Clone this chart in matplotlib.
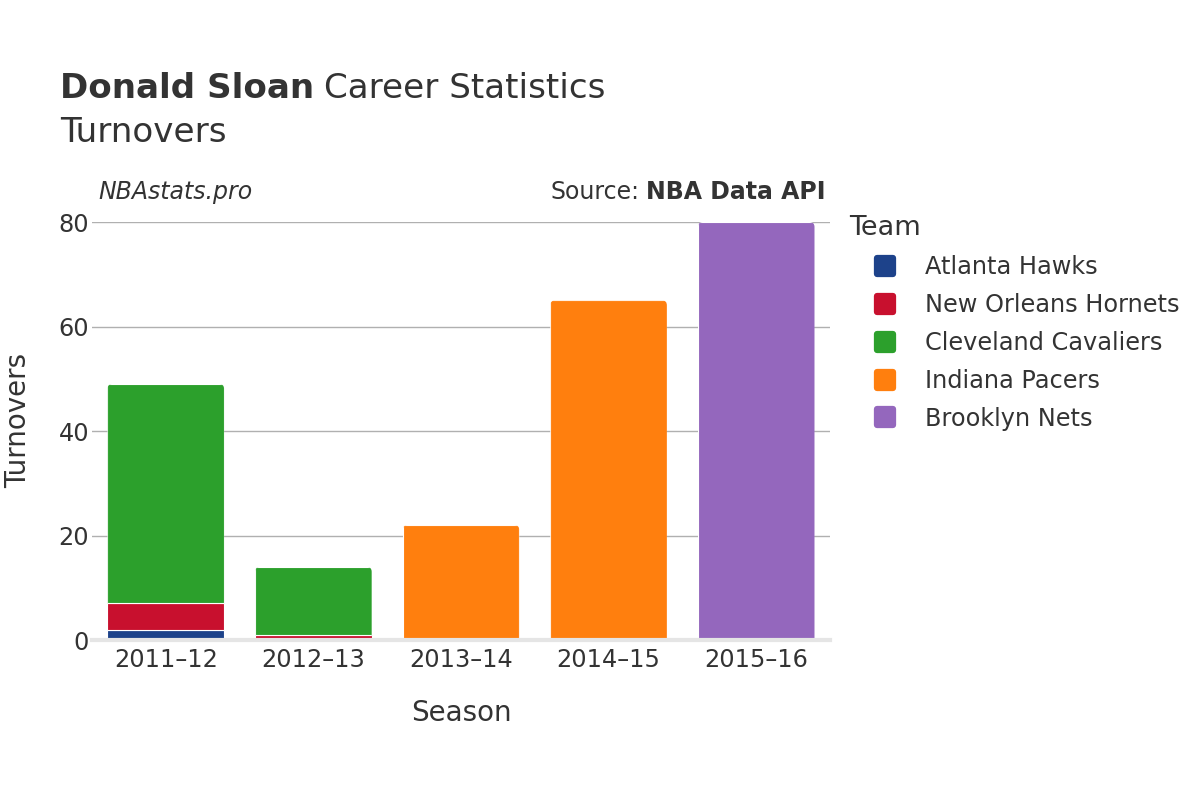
import numpy as np
import matplotlib
matplotlib.use('Agg')
import matplotlib.pyplot as plt
from matplotlib.lines import Line2D
from matplotlib.markers import MarkerStyle
from matplotlib.patches import FancyBboxPatch

seasons = ['2011–12', '2012–13', '2013–14', '2014–15', '2015–16']
teams = ['Atlanta Hawks', 'New Orleans Hornets', 'Cleveland Cavaliers',
         'Indiana Pacers', 'Brooklyn Nets']
colors = ['#1d428a', '#c8102e', '#2ca02c', '#ff7f0e', '#9467bd']

# turnovers per team, per season
atlanta = [2, 0, 0, 0, 0]
new_orleans = [5, 1, 0, 0, 0]
cleveland = [42, 13, 0, 0, 0]
indiana = [0, 0, 22, 65, 0]
brooklyn = [0, 0, 0, 0, 80]
values = [atlanta, new_orleans, cleveland, indiana, brooklyn]

text_color = '#333333'
plt.rcParams['font.family'] = ['DejaVu Sans']

fig = plt.figure(figsize=(12, 8), dpi=100)
ax = fig.add_axes([92 / 1200, 0.2, (830 - 92) / 1200, (640 - 222) / 800])
ax.set_xlim(-0.5, len(seasons) - 0.5)
ax.set_ylim(0, 80)

x = np.arange(len(seasons))
totals = np.sum(values, axis=0)
bottom = np.zeros(len(seasons))
top_rects = []
for team, vals, c in zip(teams, values, colors):
    vals = np.array(vals, dtype=float)
    mask = vals > 0
    bars = ax.bar(x[mask], vals[mask], bottom=bottom[mask], width=0.79,
                  color=c, edgecolor='white', linewidth=0.8, zorder=3,
                  label=team)
    for i, rect in zip(x[mask], bars):
        if bottom[i] + vals[i] == totals[i]:
            top_rects.append(rect)
    bottom += vals

# rounded top corners: clip the top segment of each stack
fig.canvas.draw()
px_x = ax.transData.transform([(1, 0)])[0][0] - ax.transData.transform([(0, 0)])[0][0]
px_y = ax.transData.transform([(0, 1)])[0][1] - ax.transData.transform([(0, 0)])[0][1]
r_x = 5 / px_x
for rect in top_rects:
    x0, y0 = rect.get_xy()
    w, h = rect.get_width(), rect.get_height()
    clip = FancyBboxPatch((x0, y0 - 10), w, h + 10,
                          boxstyle='round,pad=0,rounding_size=%f' % r_x,
                          mutation_aspect=px_x / px_y,
                          transform=ax.transData)
    rect.set_clip_path(clip)

ax.set_yticks([0, 20, 40, 60, 80])
ax.set_xticks(x)
ax.set_xticklabels(seasons)
ax.tick_params(axis='both', length=0, labelsize=17.3, colors=text_color)
ax.tick_params(axis='x', pad=6)
ax.tick_params(axis='y', pad=2)
ax.grid(axis='y', color='#b0b0b0', linewidth=1, zorder=0)
for s in ['top', 'right', 'left']:
    ax.spines[s].set_visible(False)
ax.spines['bottom'].set_color('#e5e5e5')
ax.spines['bottom'].set_linewidth(3)
ax.spines['bottom'].set_zorder(4)

ax.set_xlabel('Season', fontsize=20, color=text_color, labelpad=19)
ax.set_ylabel('Turnovers', fontsize=20, color=text_color, labelpad=19)
ax.yaxis.label.set_y(0.525)

title = fig.text(60 / 1200, 1 - 88 / 800, 'Donald Sloan', fontsize=24.6,
                 fontweight='bold', color=text_color, va='center', ha='left')
fig.canvas.draw()
bb = title.get_window_extent()
fig.text(bb.x1 / 1200 + 0.008, 1 - 88 / 800, 'Career Statistics', fontsize=24.6,
         color=text_color, va='center', ha='left')
fig.text(60 / 1200, 1 - 132 / 800, 'Turnovers', fontsize=24.6,
         color=text_color, va='center', ha='left')

fig.text(98 / 1200, 1 - 192 / 800, 'NBAstats.pro', fontsize=17,
         style='italic', color=text_color, va='center', ha='left')
src = fig.text(826 / 1200, 1 - 192 / 800, 'NBA Data API', fontsize=17,
               fontweight='bold', color=text_color, va='center', ha='right')
fig.canvas.draw()
bb = src.get_window_extent()
fig.text(bb.x0 / 1200 - 0.006, 1 - 192 / 800, 'Source:', fontsize=17,
         color=text_color, va='center', ha='right')

handles = [Line2D([], [], marker=MarkerStyle('s', joinstyle='round'),
                  linestyle='', markersize=12, markerfacecolor=c,
                  markeredgecolor=c, markeredgewidth=4.5)
           for c in colors]
leg = fig.legend(handles, teams, loc='upper left',
                 bbox_to_anchor=(830 / 1200, 1 - 196 / 800),
                 frameon=False, fontsize=17.3, title='Team',
                 title_fontsize=19.5, labelspacing=0.58, handlelength=3.0,
                 handletextpad=0.15, borderpad=0.3)
leg._legend_box.align = 'left'
leg.get_title().set_color(text_color)
for t in leg.get_texts():
    t.set_color(text_color)

fig.savefig('out.png', dpi=100, facecolor='white')
